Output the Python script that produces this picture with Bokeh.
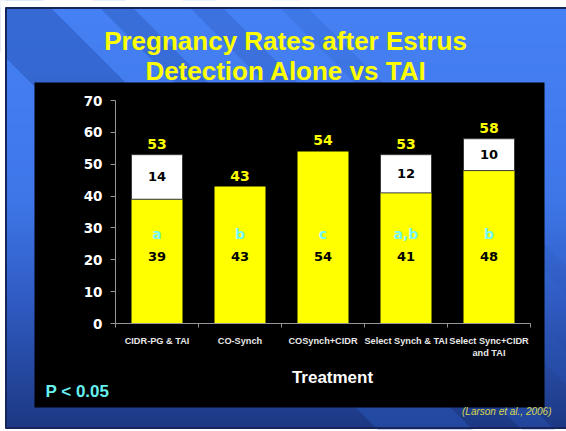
from bokeh.plotting import figure
from bokeh.models import Range1d, LinearAxis, FixedTicker
from bokeh.core.properties import value
from bokeh.embed import file_html
from bokeh.resources import INLINE

# ---------------- data ----------------
categories = ["CIDR-PG & TAI", "CO-Synch", "COSynch+CIDR",
              "Select Synch & TAI", "Select Sync+CIDR\nand TAI"]
estrus_only = [39, 43, 54, 41, 48]
tai_extra = [14, 0, 0, 12, 10]
totals = [53, 43, 54, 53, 58]
sig_letters = ["a", "b", "c", "a,b", "b"]
y_ticks = [0, 10, 20, 30, 40, 50, 60, 70]

title_lines = ["Pregnancy Rates after Estrus", "Detection Alone vs TAI"]
x_title = "Treatment"
p_note = "P < 0.05"
citation = "(Larson et al., 2006)"

# ---------------- layout helpers (page pixels -> data) ----------------
W, H = 566, 431
PX_PER_CAT = 83.0
AXIS_X_PX = 115.0
ZERO_Y_PX = 323.0
PX_PER_UNIT = 223.0 / 70.0


def dx(px):
    return -0.5 + (px - AXIS_X_PX) / PX_PER_CAT


def dy(py):
    return (ZERO_Y_PX - py) / PX_PER_UNIT


p = figure(width=W, height=H,
           x_range=Range1d(dx(0), dx(W)), y_range=Range1d(dy(H), dy(0)),
           output_backend="svg", toolbar_location=None,
           x_axis_location=None, y_axis_location=None,
           min_border=0, outline_line_color=None,
           background_fill_color="#ffffff", border_fill_color="#ffffff")
p.title.visible = False
p.grid.visible = False

# ---------------- slide background ----------------
SL, ST, SB = 5, 7, 428  # slide left / top / bottom edges
stops = [(0, (70, 130, 245)), (200, (62, 118, 232)), (300, (48, 92, 195)), (430, (28, 55, 130))]


def grad(py):
    for (y0, c0), (y1, c1) in zip(stops[:-1], stops[1:]):
        if y0 <= py <= y1:
            t = (py - y0) / (y1 - y0)
            return "#%02x%02x%02x" % tuple(int(round(a + (b - a) * t)) for a, b in zip(c0, c1))
    return "#%02x%02x%02x" % stops[-1][1]


band_top, band_bot, band_col = [], [], []
for y in range(ST, SB, 4):
    band_top.append(dy(y))
    band_bot.append(dy(min(y + 4.6, SB)))
    band_col.append(grad(y + 2))
p.quad(left=dx(SL), right=dx(600), top=band_top, bottom=band_bot,
       fill_color=band_col, line_color=None)

# diagonal stripes (bands of y - x in page pixels)
stripe_bands = [(-43, 52, 0.55), (-125, -92, 0.45), (-215, -182, 0.35), (-300, -272, 0.22)]
sx, sy, sa = [], [], []
for c1, c2, a in stripe_bands:
    xs_px = [-60, 640, 640, -60]
    ys_px = [-60 + c1, 640 + c1, 640 + c2, -60 + c2]
    sx.append([dx(v) for v in xs_px])
    sy.append([dy(v) for v in ys_px])
    sa.append(a)
p.patches(xs=sx, ys=sy, fill_color="#2a56b8", fill_alpha=sa, line_color=None)

# white page outside the slide
p.quad(left=[dx(-10), dx(-10), dx(-10)], right=[dx(SL), dx(600), dx(600)],
       top=[dy(-10), dy(-10), dy(SB + 1)], bottom=[dy(500), dy(ST), dy(500)],
       fill_color="#ffffff", line_color=None)

# slide border lines
p.segment(x0=[dx(SL), dx(SL + 0.5), dx(SL)], y0=[dy(ST + 0.5), dy(ST), dy(SB - 0.5)],
          x1=[dx(600), dx(SL + 0.5), dx(600)], y1=[dy(ST + 0.5), dy(SB), dy(SB - 0.5)],
          line_color="#16265a", line_width=2)

# black chart box
p.quad(left=dx(34), right=dx(544), top=dy(82), bottom=dy(407),
       fill_color="#000000", line_color=None)

# ---------------- bars ----------------
idx = list(range(len(categories)))
BAR_W = 51.0 / PX_PER_CAT
p.vbar(x=idx, width=BAR_W, bottom=0, top=estrus_only,
       fill_color="#ffff00", line_color=None)

w_idx = [i for i in idx if tai_extra[i] > 0]
w_bot = [estrus_only[i] for i in w_idx]
w_top = [estrus_only[i] + tai_extra[i] for i in w_idx]
p.vbar(x=w_idx, width=BAR_W, bottom=w_bot, top=w_top,
       fill_color="#ffffff", line_color="#3a3a3a", line_width=1)

num_font = value("DejaVu Sans")
txt_font = value("Liberation Sans")

# totals above bars
p.text(x=idx, y=[t + 11.0 / PX_PER_UNIT for t in totals], text=[str(t) for t in totals],
       text_align="center", text_baseline="middle", text_color="#ffff00",
       text_font=num_font, text_font_style="bold", text_font_size="14px")

# TAI segment labels
p.text(x=w_idx, y=[b + (t - b) / 2.0 for b, t in zip(w_bot, w_top)],
       text=[str(tai_extra[i]) for i in w_idx],
       text_align="center", text_baseline="middle", text_color="#000000",
       text_font=num_font, text_font_style="bold", text_font_size="13px")

# estrus-only labels
p.text(x=idx, y=[21] * len(idx), text=[str(v) for v in estrus_only],
       text_align="center", text_baseline="middle", text_color="#000000",
       text_font=num_font, text_font_style="bold", text_font_size="13px")

# significance letters
p.text(x=idx, y=[28] * len(idx), text=sig_letters,
       text_align="center", text_baseline="middle", text_color="#78fafa",
       text_font=num_font, text_font_style="bold", text_font_size="14px")

# ---------------- axes ----------------
yaxis = LinearAxis(fixed_location=-0.5, bounds=(0, 70),
                   ticker=FixedTicker(ticks=y_ticks, minor_ticks=[]))
yaxis.axis_line_color = "#969696"
yaxis.major_tick_line_color = "#969696"
yaxis.major_tick_out = 5
yaxis.major_tick_in = 0
yaxis.minor_tick_line_color = None
yaxis.major_label_standoff = 8
yaxis.major_label_text_color = "#ffffff"
yaxis.major_label_text_font = "DejaVu Sans"
yaxis.major_label_text_font_style = "bold"
yaxis.major_label_text_font_size = "13.5px"
p.add_layout(yaxis, "left")

xaxis = LinearAxis(fixed_location=0, bounds=(-0.5, len(categories) - 0.5),
                   ticker=FixedTicker(ticks=idx, minor_ticks=[i - 0.5 for i in range(len(categories) + 1)]),
                   major_label_overrides={i: c for i, c in enumerate(categories)})
xaxis.axis_line_color = "#969696"
xaxis.major_tick_line_color = None
xaxis.major_tick_out = 0
xaxis.major_tick_in = 0
xaxis.minor_tick_line_color = "#969696"
xaxis.minor_tick_out = 4
xaxis.minor_tick_in = 0
xaxis.major_label_standoff = 8
xaxis.major_label_text_color = "#e8e8e8"
xaxis.major_label_text_font = "Liberation Sans"
xaxis.major_label_text_font_style = "bold"
xaxis.major_label_text_font_size = "9.2px"
p.add_layout(xaxis, "below")

# ---------------- texts ----------------
p.text(x=[dx(285), dx(285.5)], y=[dy(40), dy(70)], text=title_lines,
       text_align="center", text_baseline="middle", text_color="#ffff00",
       text_font=txt_font, text_font_style="bold", text_font_size="26px")

p.text(x=[dx(332)], y=[dy(377)], text=[x_title],
       text_align="center", text_baseline="middle", text_color="#ffffff",
       text_font=txt_font, text_font_style="bold", text_font_size="17px")

p.text(x=[dx(45)], y=[dy(391)], text=[p_note],
       text_align="left", text_baseline="middle", text_color="#66f0f0",
       text_font=txt_font, text_font_style="bold", text_font_size="17px")

p.text(x=[dx(551)], y=[dy(411)], text=[citation],
       text_align="right", text_baseline="middle", text_color="#d8d84a",
       text_font=txt_font, text_font_style="italic", text_font_size="10px")

open("out.html", "w").write(file_html(p, INLINE))
